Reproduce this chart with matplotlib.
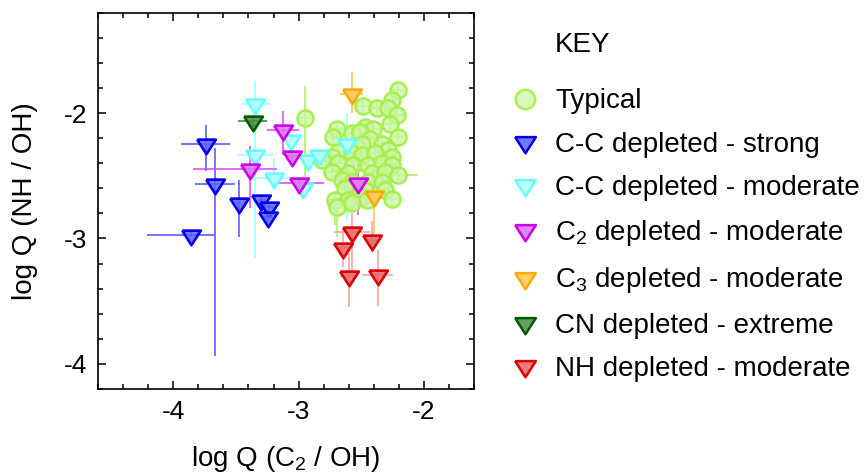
import matplotlib
matplotlib.use("Agg")
import matplotlib.pyplot as plt
from matplotlib.lines import Line2D

plt.rcParams['font.family'] = ['Liberation Sans', 'DejaVu Sans']
plt.rcParams['mathtext.fontset'] = 'custom'
plt.rcParams['mathtext.rm'] = 'Liberation Sans'
plt.rcParams['mathtext.it'] = 'Liberation Sans'

# Typical comets (log Q C2/OH, log Q NH/OH)
typ_x = [-2.952, -2.205, -2.258, -2.483, -2.378, -2.285, -2.211, -2.271, -2.696, -2.470,
         -2.404, -2.722, -2.576, -2.510, -2.205, -2.430, -2.497, -2.338, -2.285, -2.682,
         -2.576, -2.497, -2.390, -2.258, -2.735, -2.815, -2.682, -2.563, -2.444, -2.338,
         -2.258, -2.735, -2.603, -2.417, -2.311, -2.205, -2.656, -2.576, -2.444, -2.338,
         -2.629, -2.470, -2.311, -2.708, -2.603, -2.497, -2.258, -2.696, -2.576, -2.457]
typ_y = [-2.037, -1.820, -1.894, -1.947, -1.957, -1.957, -2.018, -2.084, -2.124, -2.111,
         -2.124, -2.190, -2.163, -2.151, -2.190, -2.203, -2.243, -2.243, -2.296, -2.310,
         -2.322, -2.336, -2.322, -2.349, -2.349, -2.375, -2.402, -2.415, -2.415, -2.402,
         -2.415, -2.468, -2.481, -2.481, -2.468, -2.494, -2.534, -2.548, -2.548, -2.548,
         -2.600, -2.614, -2.614, -2.693, -2.693, -2.667, -2.687, -2.746, -2.719, -2.693]
typ_xerr = [0.05, 0.05, 0.05, 0.05, 0.05, 0.05, 0.05, 0.05, 0.05, 0.05,
            0.05, 0.05, 0.05, 0.05, 0.05, 0.05, 0.05, 0.05, 0.05, 0.05,
            0.05, 0.05, 0.05, 0.05, 0.05, 0.05, 0.05, 0.05, 0.05, 0.05,
            0.05, 0.05, 0.05, 0.05, 0.05, 0.16, 0.05, 0.05, 0.05, 0.05,
            0.05, 0.05, 0.05, 0.05, 0.05, 0.05, 0.05, 0.05, 0.05, 0.05]
typ_ylo = [0.47, 0.05, 0.05, 0.05, 0.05, 0.05, 0.05, 0.05, 0.05, 0.05,
           0.05, 0.05, 0.05, 0.05, 0.05, 0.05, 0.05, 0.05, 0.05, 0.05,
           0.05, 0.05, 0.05, 0.05, 0.05, 0.05, 0.05, 0.05, 0.05, 0.05,
           0.05, 0.05, 0.05, 0.05, 0.05, 0.05, 0.05, 0.05, 0.05, 0.05,
           0.05, 0.05, 0.05, 0.20, 0.05, 0.05, 0.05, 0.24, 0.05, 0.05]
typ_yhi = [0.25, 0.05, 0.05, 0.05, 0.05, 0.05, 0.05, 0.05, 0.05, 0.05,
           0.05, 0.05, 0.05, 0.05, 0.05, 0.05, 0.05, 0.05, 0.05, 0.05,
           0.05, 0.05, 0.05, 0.05, 0.05, 0.05, 0.05, 0.05, 0.05, 0.05,
           0.05, 0.05, 0.05, 0.05, 0.05, 0.05, 0.05, 0.05, 0.05, 0.05,
           0.05, 0.05, 0.05, 0.05, 0.05, 0.05, 0.05, 0.05, 0.05, 0.05]

# C-C depleted - strong
ccs_x = [-3.742, -3.668, -3.477, -3.297, -3.233, -3.244, -3.861]
ccs_y = [-2.243, -2.566, -2.717, -2.697, -2.750, -2.830, -2.970]
ccs_xlo = [0.196, 0.16, 0.02, 0.03, 0.03, 0.03, 0.347]
ccs_xhi = [0.196, 0.16, 0.02, 0.03, 0.03, 0.03, 0.189]
ccs_ylo = [0.22, 1.373, 0.27, 0.04, 0.04, 0.04, 0.02]
ccs_yhi = [0.145, 0.29, 0.18, 0.04, 0.04, 0.04, 0.02]

# C-C depleted - moderate
ccm_x = [-3.344, -3.058, -3.350, -3.200, -2.968, -2.926, -2.840, -2.616]
ccm_y = [-1.925, -2.217, -2.336, -2.520, -2.600, -2.375, -2.336, -2.243]
ccm_xlo = [0.117, 0.05, 0.145, 0.17, 0.05, 0.05, 0.05, 0.15]
ccm_xhi = [0.117, 0.05, 0.145, 0.17, 0.05, 0.05, 0.05, 0.15]
ccm_ylo = [0.10, 0.05, 0.817, 0.08, 0.06, 0.05, 0.05, 0.61]
ccm_yhi = [0.177, 0.05, 0.30, 0.16, 0.06, 0.05, 0.05, 0.24]

# C2 depleted - moderate
c2_x = [-3.125, -3.053, -3.390, -3.000, -2.528]
c2_y = [-2.132, -2.344, -2.450, -2.560, -2.560]
c2_xlo = [0.13, 0.05, 0.45, 0.20, 0.03]
c2_xhi = [0.13, 0.05, 0.217, 0.20, 0.03]
c2_ylo = [0.20, 0.05, 0.31, 0.05, 0.25]
c2_yhi = [0.15, 0.05, 0.19, 0.05, 0.16]

# C3 depleted - moderate
c3_x = [-2.576, -2.396]
c3_y = [-1.846, -2.661]
c3_xlo = [0.09, 0.04]
c3_xhi = [0.09, 0.04]
c3_ylo = [0.15, 0.30]
c3_yhi = [0.17, 0.20]

# CN depleted - extreme
cn_x = [-3.366]
cn_y = [-2.064]
cn_xlo = [0.115]
cn_xhi = [0.115]
cn_ylo = [0.05]
cn_yhi = [0.05]

# NH depleted - moderate
nh_x = [-2.576, -2.642, -2.412, -2.597, -2.370]
nh_y = [-2.950, -3.076, -3.010, -3.296, -3.288]
nh_xlo = [0.145, 0.06, 0.04, 0.07, 0.125]
nh_xhi = [0.145, 0.06, 0.04, 0.07, 0.125]
nh_ylo = [0.35, 0.15, 0.10, 0.25, 0.25]
nh_yhi = [0.15, 0.15, 0.15, 0.18, 0.20]

# triangle pointing down, centred on its centroid
tri = [(-1, 0.52), (1, 0.52), (0, -1.04), (-1, 0.52)]

fig = plt.figure(figsize=(8.66, 4.72), dpi=100)
ax = fig.add_axes([0.1132, 0.1758, 0.4342, 0.7973])

groups = [
    (typ_x, typ_y, typ_xerr, typ_xerr, typ_ylo, typ_yhi, 'o', 11.5, (0.80, 0.96, 0.65, 0.75), '#a8f050', '#a8f050'),
    (ccs_x, ccs_y, ccs_xlo, ccs_xhi, ccs_ylo, ccs_yhi, tri, 14, (0.38, 0.38, 0.98, 0.85), '#0000ee', '#5050ff'),
    (ccm_x, ccm_y, ccm_xlo, ccm_xhi, ccm_ylo, ccm_yhi, tri, 14, (0.70, 1.0, 1.0, 0.8), '#66ffff', '#99ffff'),
    (c2_x, c2_y, c2_xlo, c2_xhi, c2_ylo, c2_yhi, tri, 14, (0.88, 0.45, 0.96, 0.85), '#cc00ee', '#dd44ee'),
    (c3_x, c3_y, c3_xlo, c3_xhi, c3_ylo, c3_yhi, tri, 14, (1.0, 0.78, 0.35, 0.85), '#ffaa00', '#ffbb44'),
    (cn_x, cn_y, cn_xlo, cn_xhi, cn_ylo, cn_yhi, tri, 14, (0.30, 0.55, 0.30, 0.85), '#005a00', '#228822'),
    (nh_x, nh_y, nh_xlo, nh_xhi, nh_ylo, nh_yhi, tri, 14, (0.90, 0.40, 0.40, 0.85), '#dd0000', '#f0a0a0'),
]

for gx, gy, xlo, xhi, ylo, yhi, mk, ms, fc, ec, lc in groups:
    ax.errorbar(gx, gy, xerr=[xlo, xhi], yerr=[ylo, yhi], fmt='none',
                ecolor=lc, elinewidth=1.1, capsize=0, zorder=2)
    ax.plot(gx, gy, linestyle='none', marker=mk, ms=ms, mfc=fc, mec=ec, mew=1.9, zorder=3)

ax.set_xlim(-4.6, -1.6)
ax.set_ylim(-4.2, -1.2)
ax.set_xticks([-4, -3, -2])
ax.set_yticks([-4, -3, -2])
ax.set_xticklabels(['-4', '-3', '-2'])
ax.set_yticklabels(['-4', '-3', '-2'])
ax.set_xticks([-4.6 + 0.2 * i for i in range(16)], minor=True)
ax.set_yticks([-4.2 + 0.2 * i for i in range(16)], minor=True)
ax.tick_params(which='both', direction='in', top=True, right=True, width=1.1, labelsize=19)
ax.tick_params(which='major', length=6, pad=8)
ax.tick_params(which='minor', length=3.5)
for s in ax.spines.values():
    s.set_linewidth(1.2)

ax.set_xlabel('log Q (C$_2$ / OH)', fontsize=20, labelpad=14)
ax.set_ylabel('log Q (NH / OH)', fontsize=20, labelpad=18)

labels = ['Typical', 'C-C depleted - strong', 'C-C depleted - moderate',
          'C$_2$ depleted - moderate', 'C$_3$ depleted - moderate',
          'CN depleted - extreme', 'NH depleted - moderate']
handles = []
for g, lab in zip(groups, labels):
    mk, fc, ec = g[6], g[8], g[9]
    handles.append(Line2D([], [], linestyle='none', marker=mk,
                          ms=14 if mk == 'o' else 15.5, mfc=fc, mec=ec, mew=1.8))

fig.legend(handles, labels, loc='upper left', bbox_to_anchor=(0.590, 0.8126),
           frameon=False, fontsize=20, handlelength=1.0, handletextpad=0.6,
           labelspacing=0.62, borderpad=0, borderaxespad=0)
fig.text(0.641, 0.905, 'KEY', fontsize=20, ha='left', va='center')

fig.savefig('out.png', dpi=100)
